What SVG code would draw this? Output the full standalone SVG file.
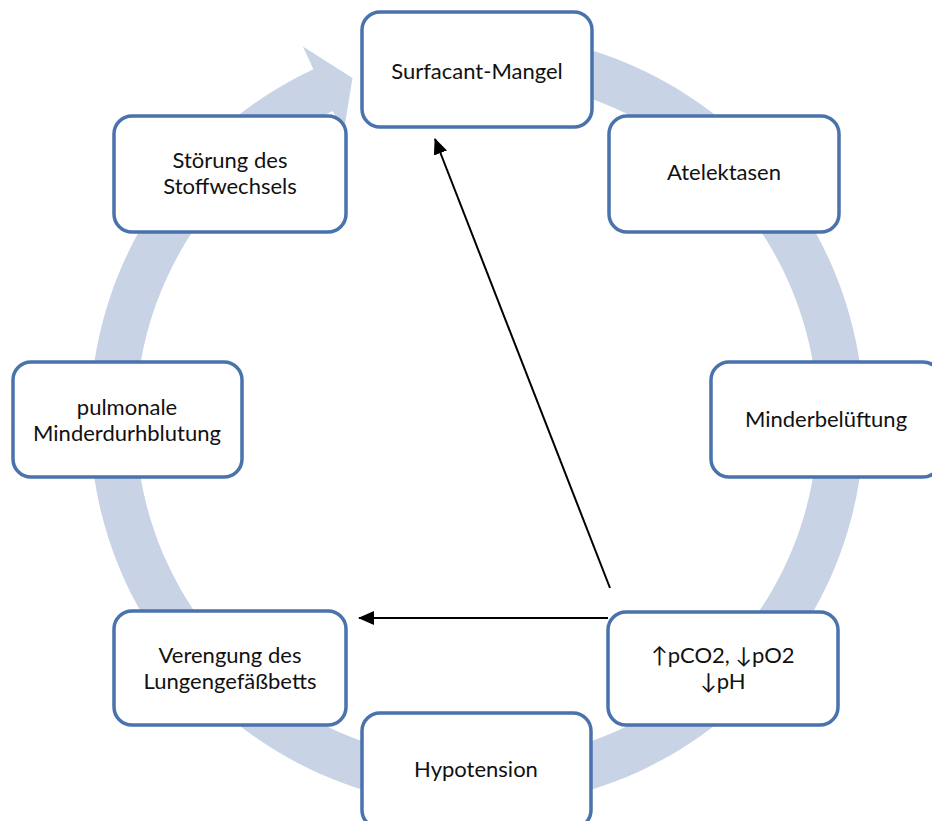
<svg xmlns="http://www.w3.org/2000/svg" width="932" height="821" viewBox="0 0 932 821">
<defs>
<style>
.box{fill:#ffffff;stroke:#4a72ac;stroke-width:3.5}
.t{font-family:Lato,"Open Sans","Liberation Sans",sans-serif;font-size:22px;fill:#111;text-anchor:middle}
.cn{stroke:#000;stroke-width:2;fill:none}
</style>
<marker id="ah" viewBox="0 0 16 14" refX="15" refY="7" markerWidth="16" markerHeight="14" markerUnits="userSpaceOnUse" orient="auto">
<path d="M0,0 L16,7 L0,14 Z" fill="#000"/>
</marker>
</defs>
<rect width="932" height="821" fill="#fff"/>
<g id="cycle">
<path d="M409.8,38.9 A387,387 0 1 1 313.4,69.3 L302.9,46.6 L352.5,78 L343.5,133.6 L332.9,110.9 A341,341 0 1 0 417.8,84.2 Z" fill="#c9d3e6"/>
</g>
<g id="connectors">
<line class="cn" x1="610" y1="588" x2="435" y2="139" marker-end="url(#ah)"/>
<line class="cn" x1="608" y1="618" x2="359" y2="618" marker-end="url(#ah)"/>
</g>
<g id="n1"><rect class="box" x="362" y="12" width="230" height="115" rx="18"/><text class="t" x="477" y="79">Surfacant-Mangel</text></g>
<g id="n2"><rect class="box" x="609" y="116" width="230" height="116" rx="18"/><text class="t" x="724" y="180">Atelektasen</text></g>
<g id="n3"><rect class="box" x="711" y="362" width="230" height="115" rx="18"/><text class="t" x="826" y="427">Minderbelüftung</text></g>
<g id="n4"><rect class="box" x="608" y="612" width="230" height="113" rx="18"/><text class="t" x="723" y="663">↑pCO2, ↓pO2</text><text class="t" x="723" y="689">↓pH</text></g>
<g id="n5"><rect class="box" x="362" y="713" width="229" height="115" rx="18"/><text class="t" x="476" y="777">Hypotension</text></g>
<g id="n6"><rect class="box" x="114" y="611" width="232" height="114" rx="18"/><text class="t" x="230" y="663">Verengung des</text><text class="t" x="230" y="689">Lungengefäßbetts</text></g>
<g id="n7"><rect class="box" x="13" y="362" width="229" height="115" rx="18"/><text class="t" x="127" y="415">pulmonale</text><text class="t" x="127" y="441">Minderdurhblutung</text></g>
<g id="n8"><rect class="box" x="114" y="116" width="232" height="116" rx="18"/><text class="t" x="230" y="168">Störung des</text><text class="t" x="230" y="194">Stoffwechsels</text></g>
</svg>
